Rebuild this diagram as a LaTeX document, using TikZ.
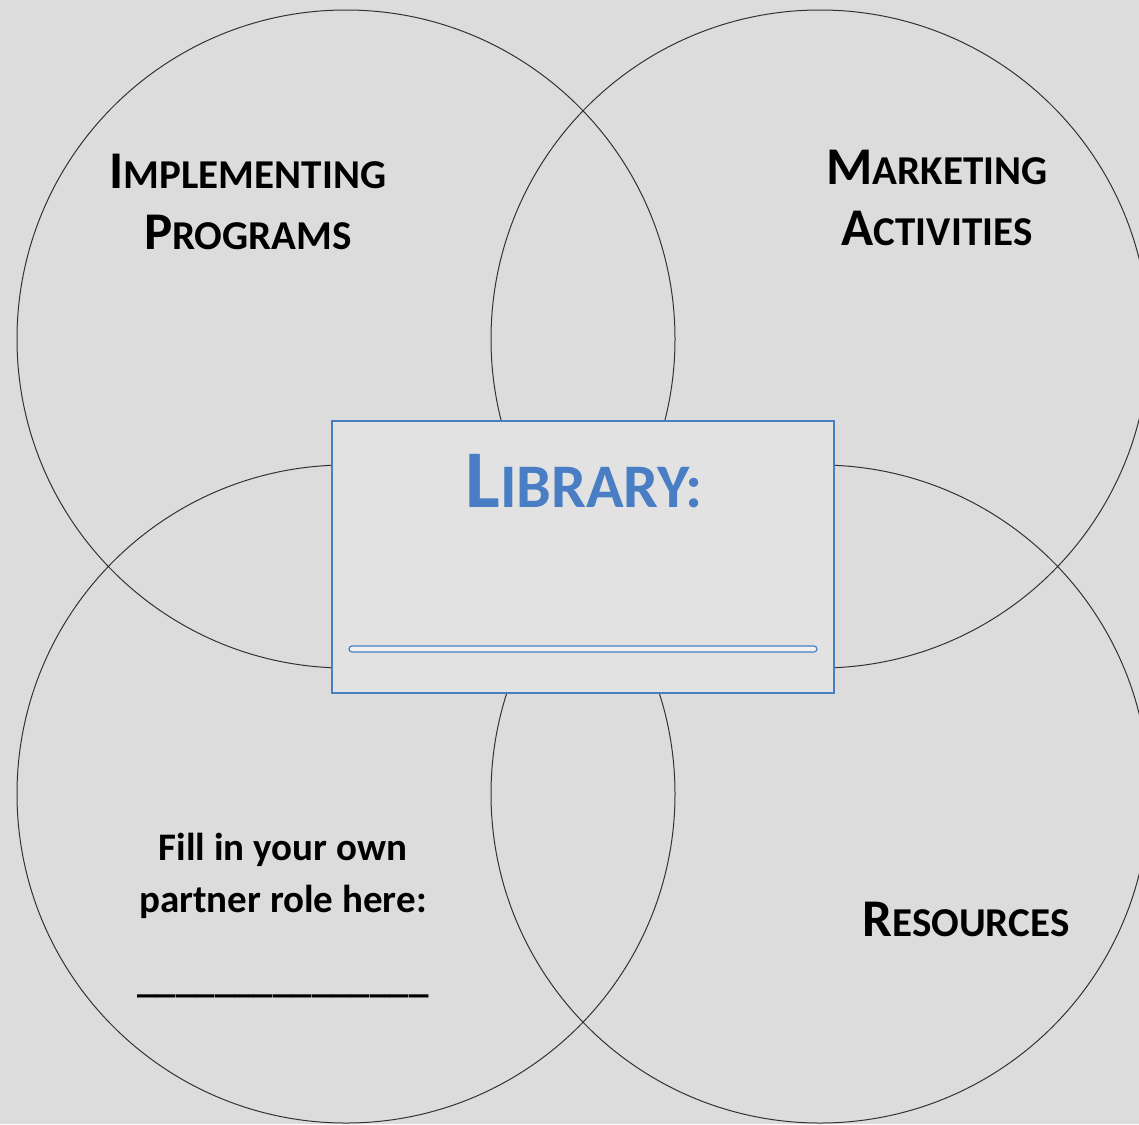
\documentclass[tikz,border=0pt]{standalone}
\usepackage{fontspec}
\setmainfont{Carlito}
\usetikzlibrary{positioning}
\definecolor{pagegray}{RGB}{220,220,220}
\definecolor{boxgray}{RGB}{226,226,226}
\definecolor{libblue}{RGB}{74,126,196}
\newcommand{\fakesc}[3]{#2{\fontsize{#1}{#1}\selectfont #3}}

\begin{document}
\begin{tikzpicture}
  [x=0.5pt,y=-0.5pt,
   role/.style={font=\bfseries\fontsize{26.5}{30.5}\selectfont,align=center,inner sep=0pt},
   ring/.style={draw=black!80,line width=0.5pt}]
  \useasboundingbox[fill=pagegray] (0,0) rectangle (1139,1124);
  \clip (0,0) rectangle (1139,1124);

  \foreach \cx/\cy in {346/339, 820/339, 346/794, 820/794}
    \draw[ring] (\cx,\cy) circle [radius=164.5pt];

  \node[draw=libblue,line width=1pt,fill=boxgray,minimum width=251pt,
        minimum height=136pt,inner sep=0pt] (library) at (583,557) {};
  \node[font=\bfseries\fontsize{41}{41}\selectfont,text=libblue,inner sep=0pt]
    (libname) at (584,481) {\fakesc{31}{L}{IBRARY:}};
  \draw[libblue,line width=0.6pt,fill=boxgray!50!white,rounded corners=1.5pt]
    (349,646) rectangle (817,652);

  \node[role] (implementing) at (248,202)
    {\fakesc{20.5}{I}{MPLEMENTING}\\\fakesc{20.5}{P}{ROGRAMS}};
  \node[role] (marketing) at (937,198)
    {\fakesc{20.5}{M}{ARKETING}\\\fakesc{20.5}{A}{CTIVITIES}};
  \node[role] (resources) at (966,919) {\fakesc{20.5}{R}{ESOURCES}};

  \node[font=\bfseries\fontsize{19.5}{26}\selectfont,align=center,inner sep=0pt]
    (ownrole) at (283,876) {Fill in your own\\partner role here:};
  \node[font=\bfseries\fontsize{19.5}{26}\selectfont,inner sep=0pt]
    (blank) at (283,995) {\_\_\_\_\_\_\_\_\_\_\_\_\_\_\_};
\end{tikzpicture}
\end{document}
